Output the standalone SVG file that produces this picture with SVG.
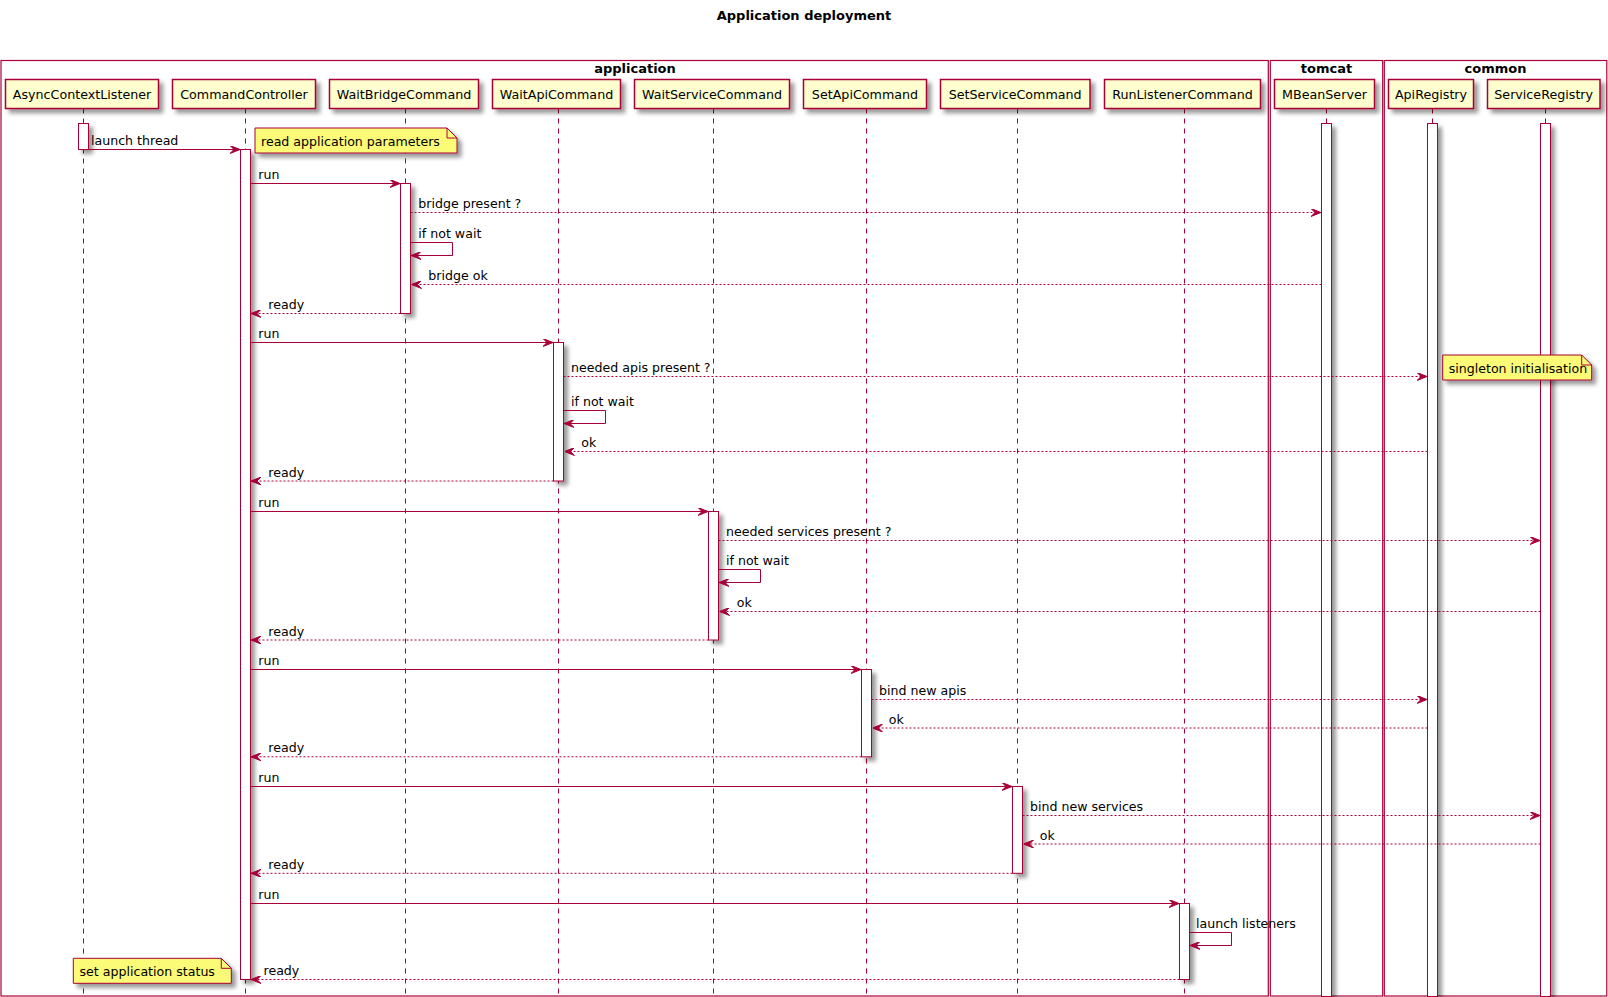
<svg xmlns="http://www.w3.org/2000/svg" width="1608" height="997" viewBox="0 0 1608 997">
<defs>
<filter id="sh" x="-1" y="-1" width="300%" height="300%">
<feGaussianBlur result="b1" stdDeviation="2"/>
<feColorMatrix in="b1" result="b2" type="matrix" values="0 0 0 0 0 0 0 0 0 0 0 0 0 0 0 0 0 0 .4 0"/>
<feOffset dx="4" dy="4" in="b2" result="b3"/>
<feBlend in="SourceGraphic" in2="b3" mode="normal"/>
</filter>
<marker id="ah" viewBox="0 0 10 8" refX="10" refY="4" markerWidth="10" markerHeight="8" markerUnits="userSpaceOnUse" orient="auto">
<path d="M0,0 L10,4 L0,8 L4,4 Z" fill="#A80036" stroke="#A80036" stroke-width="1" stroke-dasharray="none"/>
</marker>
<style>
.t{font-family:"DejaVu Sans",sans-serif;font-size:12.6px;fill:#000}
.p{font-family:"DejaVu Sans",sans-serif;font-size:12.7px;fill:#000}
.b{font-family:"DejaVu Sans",sans-serif;font-size:13px;font-weight:bold;fill:#000}
.grp{fill:none;stroke:#A80036;stroke-width:1.2}
.part{fill:#FEFECE;stroke:#A80036;stroke-width:1.5;filter:url(#sh)}
.ll{stroke:#A80036;stroke-width:1;stroke-dasharray:5,5;fill:none}
.act{fill:#FFFFFF;stroke:#A80036;stroke-width:1;filter:url(#sh)}
.m{fill:none;stroke:#A80036;stroke-width:1;marker-end:url(#ah)}
.d{stroke-dasharray:2,2}
.note{fill:#FBFB77;stroke:#A80036;stroke-width:1;filter:url(#sh)}
.fold{fill:none;stroke:#A80036;stroke-width:1}
</style>
</defs>
<rect width="1608" height="997" fill="#FFFFFF"/>
<text class="b" x="804" y="20" text-anchor="middle">Application deployment</text>

<g id="box-application">
<rect class="grp" x="1" y="60.5" width="1267.3" height="935.5"/>
<text class="b" x="635" y="73" text-anchor="middle">application</text>
</g>
<g id="box-tomcat">
<rect class="grp" x="1270.3" y="60.5" width="112.4" height="935.5"/>
<text class="b" x="1326.5" y="73" text-anchor="middle">tomcat</text>
</g>
<g id="box-common">
<rect class="grp" x="1384.3" y="60.5" width="222.5" height="935.5"/>
<text class="b" x="1495.5" y="73" text-anchor="middle">common</text>
</g>

<g id="lifelines">
<line class="ll" x1="83.5" y1="108.5" x2="83.5" y2="996"/>
<line class="ll" x1="245.5" y1="108.5" x2="245.5" y2="996"/>
<line class="ll" x1="405.5" y1="108.5" x2="405.5" y2="996"/>
<line class="ll" x1="558.5" y1="108.5" x2="558.5" y2="996"/>
<line class="ll" x1="713.5" y1="108.5" x2="713.5" y2="996"/>
<line class="ll" x1="866.5" y1="108.5" x2="866.5" y2="996"/>
<line class="ll" x1="1017.5" y1="108.5" x2="1017.5" y2="996"/>
<line class="ll" x1="1184.5" y1="108.5" x2="1184.5" y2="996"/>
<line class="ll" x1="1326.5" y1="108.5" x2="1326.5" y2="996"/>
<line class="ll" x1="1432.5" y1="108.5" x2="1432.5" y2="996"/>
<line class="ll" x1="1545.5" y1="108.5" x2="1545.5" y2="996"/>
</g>

<g id="AsyncContextListener">
<rect class="part" x="5.5" y="79.5" width="153" height="29"/>
<text class="p" x="82" y="99" text-anchor="middle">AsyncContextListener</text>
<rect class="act" x="78.5" y="123.5" width="10" height="26"/>
</g>
<g id="CommandController">
<rect class="part" x="172.5" y="79.5" width="143" height="29"/>
<text class="p" x="244" y="99" text-anchor="middle">CommandController</text>
<rect class="act" x="240.5" y="149.5" width="10" height="830"/>
</g>
<g id="WaitBridgeCommand">
<rect class="part" x="329.5" y="79.5" width="149" height="29"/>
<text class="p" x="404" y="99" text-anchor="middle">WaitBridgeCommand</text>
<rect class="act" x="400.5" y="183.5" width="10" height="130"/>
</g>
<g id="WaitApiCommand">
<rect class="part" x="492.5" y="79.5" width="128" height="29"/>
<text class="p" x="556.5" y="99" text-anchor="middle">WaitApiCommand</text>
<rect class="act" x="553.5" y="342.5" width="10" height="138.5"/>
</g>
<g id="WaitServiceCommand">
<rect class="part" x="634.5" y="79.5" width="155" height="29"/>
<text class="p" x="712" y="99" text-anchor="middle">WaitServiceCommand</text>
<rect class="act" x="708.5" y="511.5" width="10" height="128.5"/>
</g>
<g id="SetApiCommand">
<rect class="part" x="803.5" y="79.5" width="123" height="29"/>
<text class="p" x="865" y="99" text-anchor="middle">SetApiCommand</text>
<rect class="act" x="861.5" y="669.5" width="10" height="87.3"/>
</g>
<g id="SetServiceCommand">
<rect class="part" x="940.5" y="79.5" width="149.5" height="29"/>
<text class="p" x="1015.2" y="99" text-anchor="middle">SetServiceCommand</text>
<rect class="act" x="1012.5" y="786.5" width="10" height="86.8"/>
</g>
<g id="RunListenerCommand">
<rect class="part" x="1104.5" y="79.5" width="156" height="29"/>
<text class="p" x="1182.5" y="99" text-anchor="middle">RunListenerCommand</text>
<rect class="act" x="1179.5" y="903.5" width="10" height="76"/>
</g>
<g id="MBeanServer">
<rect class="part" x="1274.5" y="79.5" width="100" height="29"/>
<text class="p" x="1324.5" y="99" text-anchor="middle">MBeanServer</text>
<rect class="act" x="1321.5" y="123.5" width="10" height="873"/>
</g>
<g id="ApiRegistry">
<rect class="part" x="1388.5" y="79.5" width="85" height="29"/>
<text class="p" x="1431" y="99" text-anchor="middle">ApiRegistry</text>
<rect class="act" x="1427.5" y="123.5" width="10" height="873"/>
</g>
<g id="ServiceRegistry">
<rect class="part" x="1487.5" y="79.5" width="112.5" height="29"/>
<text class="p" x="1543.7" y="99" text-anchor="middle">ServiceRegistry</text>
<rect class="act" x="1540.5" y="123.5" width="10" height="873"/>
</g>

<g id="connectors">
<path class="m" d="M88.5,149.5 H240"/>
<text class="t" x="91" y="145">launch thread</text>

<path class="m" d="M250.5,183.5 H400"/>
<text class="t" x="258.3" y="179">run</text>
<path class="m d" d="M410.5,212.5 H1321"/>
<text class="t" x="418.3" y="208">bridge present ?</text>
<path class="m" d="M410.5,242.5 H452.5 V255.5 H411"/>
<text class="t" x="418.3" y="237.5">if not wait</text>
<path class="m d" d="M1321.5,284.5 H411.5"/>
<text class="t" x="428.3" y="279.5">bridge ok</text>
<path class="m d" d="M400.5,313.5 H251"/>
<text class="t" x="268.3" y="308.5">ready</text>

<path class="m" d="M250.5,342.5 H553"/>
<text class="t" x="258.3" y="338">run</text>
<path class="m d" d="M563.5,376.5 H1427"/>
<text class="t" x="571" y="371.5">needed apis present ?</text>
<path class="m" d="M563.5,410.5 H605.5 V423.5 H564"/>
<text class="t" x="571" y="405.5">if not wait</text>
<path class="m d" d="M1427.5,451.5 H564.5"/>
<text class="t" x="581.3" y="446.5">ok</text>
<path class="m d" d="M553.5,481 H251"/>
<text class="t" x="268.3" y="476.5">ready</text>

<path class="m" d="M250.5,511.5 H708"/>
<text class="t" x="258.3" y="507">run</text>
<path class="m d" d="M718.5,540.5 H1540"/>
<text class="t" x="726" y="535.5">needed services present ?</text>
<path class="m" d="M718.5,569.5 H760.5 V582.5 H719"/>
<text class="t" x="726" y="564.8">if not wait</text>
<path class="m d" d="M1540.5,611.5 H719.5"/>
<text class="t" x="736.7" y="606.8">ok</text>
<path class="m d" d="M708.5,640 H251"/>
<text class="t" x="268.3" y="635.5">ready</text>

<path class="m" d="M250.5,669.5 H861"/>
<text class="t" x="258.3" y="665">run</text>
<path class="m d" d="M871.5,699.5 H1427"/>
<text class="t" x="879" y="694.8">bind new apis</text>
<path class="m d" d="M1427.5,728 H872.5"/>
<text class="t" x="888.7" y="723.5">ok</text>
<path class="m d" d="M861.5,756.8 H251"/>
<text class="t" x="268.3" y="752.3">ready</text>

<path class="m" d="M250.5,786.5 H1012"/>
<text class="t" x="258.3" y="782">run</text>
<path class="m d" d="M1022.5,815.5 H1540"/>
<text class="t" x="1030" y="810.8">bind new services</text>
<path class="m d" d="M1540.5,844 H1023.5"/>
<text class="t" x="1039.7" y="839.5">ok</text>
<path class="m d" d="M1012.5,873.3 H251"/>
<text class="t" x="268.3" y="868.8">ready</text>

<path class="m" d="M250.5,903.5 H1179"/>
<text class="t" x="258.3" y="898.8">run</text>
<path class="m" d="M1189.5,932.5 H1231.5 V945.5 H1190"/>
<text class="t" x="1196" y="928">launch listeners</text>
<path class="m d" d="M1179.5,979.5 H251"/>
<text class="t" x="263.5" y="974.8">ready</text>
</g>

<g id="note-read-params">
<path class="note" d="M255,128 H447 L457,138 V153 H255 Z"/>
<path class="fold" d="M447,128 V138 H457"/>
<text class="t" x="261" y="145.5">read application parameters</text>
</g>
<g id="note-singleton">
<path class="note" d="M1442.7,355 H1581.7 L1591.7,365 V380 H1442.7 Z"/>
<path class="fold" d="M1581.7,355 V365 H1591.7"/>
<text class="t" x="1448.7" y="372.5">singleton initialisation</text>
</g>
<g id="note-set-status">
<path class="note" d="M73.3,958.3 H221.3 L231.3,968.3 V983.3 H73.3 Z"/>
<path class="fold" d="M221.3,958.3 V968.3 H231.3"/>
<text class="t" x="79.5" y="975.8">set application status</text>
</g>
</svg>
